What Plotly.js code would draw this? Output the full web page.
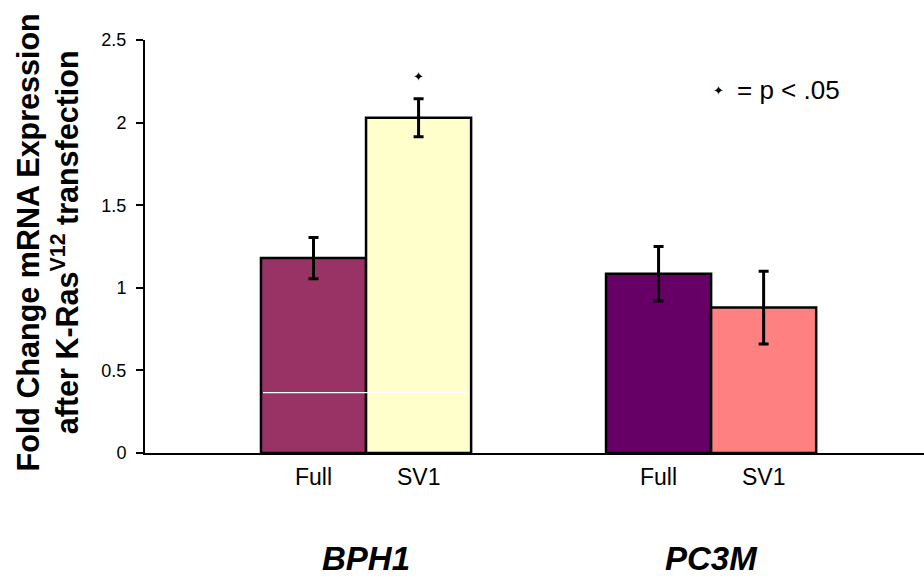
<!DOCTYPE html>
<html>
<head>
<meta charset="utf-8">
<script src="https://cdn.plot.ly/plotly-3.0.1.min.js"></script>
<style>html,body{margin:0;padding:0;background:#fff;}#chart{width:924px;height:581px;}</style>
</head>
<body>
<div id="chart"></div>
<script>
// ---- data ----
const groups = ["BPH1", "PC3M"];
const seriesNames = ["Full", "SV1"];
const fullValues = [1.18, 1.085];
const fullErrors = [0.125, 0.165];
const sv1Values = [2.03, 0.88];
const sv1Errors = [0.115, 0.22];
const fullColors = ["#993366", "#660066"];
const sv1Colors = ["#FFFFCC", "#FF8080"];
// significance markers (value where the star sits, null = none)
const sv1Significance = [2.28, null];
const yTickVals = [0, 0.5, 1, 1.5, 2, 2.5];
const legendText = "= p < .05";
const artifactLineY = 0.366; // faint white line visible across the BPH1 bars

const FONT = "Liberation Sans, Arial, Helvetica, sans-serif";
const bargap = 0.391;
const half = (1 - bargap) / 2;      // half group width, in category units
const pxPerCat = 345;               // plot px per category unit
const barShift = pxPerCat * half / 2;

const barTrace = (name, vals, errs, colors) => ({
  type: "bar", name: name, x: groups, y: vals,
  marker: {color: colors, line: {color: "#000", width: 2.5}},
  error_y: {type: "data", array: errs, visible: true, color: "#000", thickness: 3, width: 5},
  hoverinfo: "skip"
});

const data = [
  barTrace(seriesNames[0], fullValues, fullErrors, fullColors),
  barTrace(seriesNames[1], sv1Values, sv1Errors, sv1Colors)
];

const annotations = [];
// group & series labels
groups.forEach((g, i) => {
  annotations.push({x: g, y: -0.058, xref: "x", yref: "paper", text: seriesNames[0], showarrow: false,
    xshift: -barShift, font: {family: FONT, size: 23, color: "#000"}, xanchor: "center", yanchor: "middle"});
  annotations.push({x: g, y: -0.058, xref: "x", yref: "paper", text: seriesNames[1], showarrow: false,
    xshift: barShift, font: {family: FONT, size: 23, color: "#000"}, xanchor: "center", yanchor: "middle"});
  annotations.push({x: g, y: -0.255, xref: "x", yref: "paper", text: "<b><i>" + g + "</i></b>", showarrow: false,
    xshift: 0, font: {family: FONT, size: 33, color: "#000"}, xanchor: "center", yanchor: "middle"});
  if (sv1Significance[i] !== null) {
    annotations.push({x: g, y: sv1Significance[i], xref: "x", yref: "y", text: "✦", showarrow: false,
      xshift: barShift, font: {family: "DejaVu Sans", size: 13, color: "#000"}, xanchor: "center", yanchor: "middle"});
  }
});
// legend
annotations.push({x: 0.7356, y: 0.877, xref: "paper", yref: "paper", text: "✦", showarrow: false,
  font: {family: "DejaVu Sans", size: 13, color: "#000"}, xanchor: "center", yanchor: "middle"});
annotations.push({x: 0.758, y: 0.879, xref: "paper", yref: "paper", text: legendText, showarrow: false,
  font: {family: FONT, size: 26, color: "#000"}, xanchor: "left", yanchor: "middle"});
// y title
annotations.push({x: -0.1245, y: 0.51, xref: "paper", yref: "paper", textangle: -90, showarrow: false,
  text: "<b>Fold Change mRNA Expression<br>after K-Ras<sup>V12</sup> transfection</b>",
  font: {family: FONT, size: 30.5, color: "#000"}, xanchor: "center", yanchor: "middle"});

const layout = {
  width: 924, height: 581,
  margin: {l: 145, r: 0, t: 40, b: 128, pad: 0},
  paper_bgcolor: "#fff", plot_bgcolor: "#fff",
  showlegend: false,
  barmode: "group", bargap: bargap, bargroupgap: 0,
  xaxis: {type: "category", range: [-0.6406, 1.617], showticklabels: false, ticks: "",
    showgrid: false, zeroline: false, showline: true, linecolor: "#000", linewidth: 2, fixedrange: true},
  yaxis: {range: [0, 2.5], tickvals: yTickVals, ticktext: yTickVals.map(String), ticks: "outside", ticklen: 7, tickwidth: 2,
    ticklabelstandoff: 6,
    tickcolor: "#000", showgrid: false, zeroline: false, showline: true, linecolor: "#000", linewidth: 2,
    tickfont: {family: FONT, size: 18, color: "#000"}, fixedrange: true},
  annotations: annotations,
  shapes: [{type: "line", xref: "x", yref: "y", x0: -half + 0.006, x1: half - 0.006, y0: artifactLineY, y1: artifactLineY,
    line: {color: "#fff", width: 1.2}}]
};

Plotly.newPlot("chart", data, layout, {staticPlot: true, displayModeBar: false});
</script>
</body>
</html>
